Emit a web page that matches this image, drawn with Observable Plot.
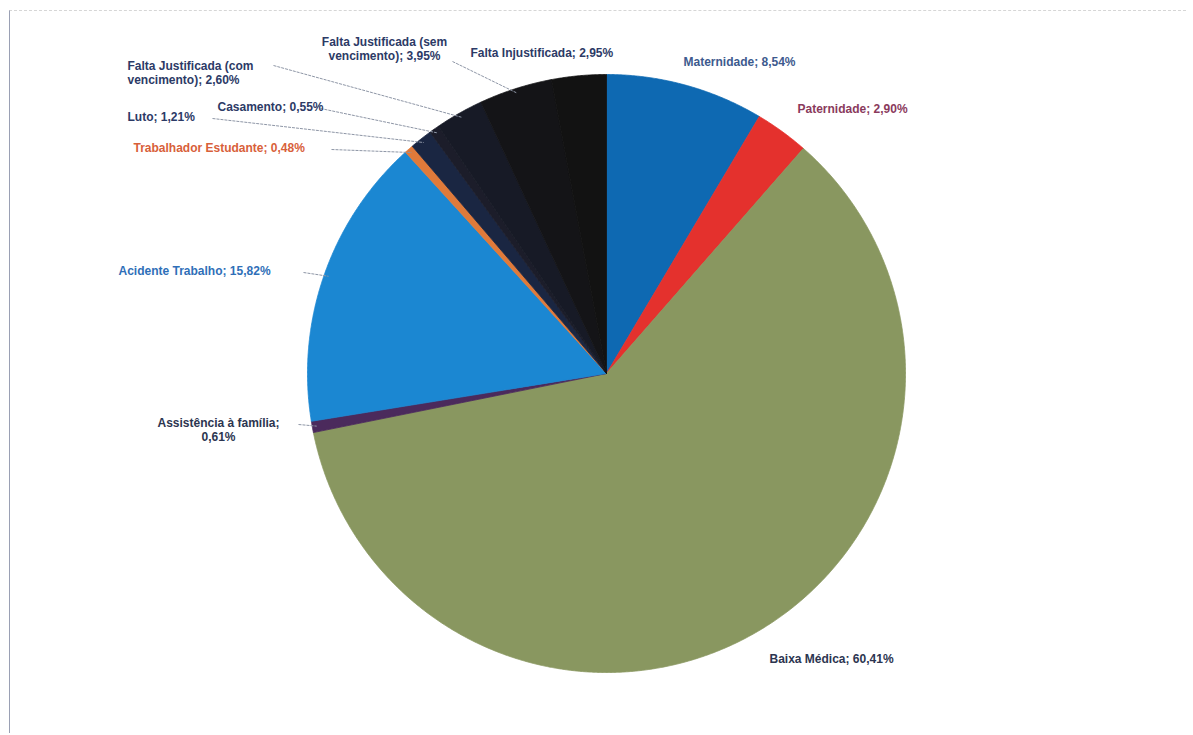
<!DOCTYPE html>
<html><head><meta charset="utf-8">
<script src="https://cdn.jsdelivr.net/npm/d3@7"></script>
<script src="https://cdn.jsdelivr.net/npm/@observablehq/plot@0.6"></script>
<style>
body{margin:0;background:#fff;overflow:hidden;}
#wrap{position:relative;width:1193px;height:735px;}
#frame{position:absolute;left:9px;top:10px;width:1176px;height:722px;border-left:1px solid #9aa0b4;border-top:1px dashed #d6d6d6;pointer-events:none;}
</style>
</head><body>
<div id="wrap"><div id="chart"></div><div id="frame"></div></div>
<script>
// ---- data ----
const categories = ["Maternidade","Paternidade","Baixa Médica","Assistência à família","Acidente Trabalho","Trabalhador Estudante","Luto","Casamento","Falta Justificada (com vencimento)","Falta Justificada (sem vencimento)","Falta Injustificada"];
const values = [8.54, 2.90, 60.41, 0.61, 15.82, 0.48, 1.21, 0.55, 2.60, 3.95, 2.95];
const sliceColors = ["#0e69b2","#e4312d","#899760","#4b2a5c","#1b87d2","#e07a3a","#1a2642","#1c1d2a","#171a26","#141417","#121212"];
const labelColors = ["#3d5a8e","#8a3a5c","#2c3550","#2c3550","#2f6fb8","#d8603a","#2c3a66","#2c3a66","#2c3a66","#2c3a66","#2c3a66"];

// ---- layout (pixels) ----
const W = 1193, H = 735, cx = 606, cy = 373, R = 299;
const labelLayout = [
  {px:683, py:61,  anchor:"start"},
  {px:797, py:108, anchor:"start"},
  {px:769, py:658, anchor:"start"},
  {px:218, py:429, anchor:"middle", wrap:"família;", lead:[298,424]},
  {px:118, py:270, anchor:"start", lead:[303,272]},
  {px:133, py:147, anchor:"start", lead:[331,149]},
  {px:127, py:116, anchor:"start", lead:[212,118]},
  {px:217, py:106, anchor:"start", lead:[320,108]},
  {px:127, py:72,  anchor:"start", wrap:"(com", lead:[273,65]},
  {px:384, py:48,  anchor:"middle", wrap:"(sem", lead:[452,61]},
  {px:470, py:52,  anchor:"start"}
];

const ux = px => (px - cx) / R;
const uy = py => (cy - py) / R;
const fmt = v => v.toFixed(2).replace(".", ",") + "%";

const total = d3.sum(values);
let acc = 0;
const slices = categories.map((name, i) => {
  const a0 = acc / total * 2 * Math.PI;
  acc += values[i];
  const a1 = acc / total * 2 * Math.PI;
  return {name, value: values[i], a0, a1, mid: (a0 + a1) / 2, color: sliceColors[i], i};
});

const pts = [];
for (const s of slices) {
  pts.push({name: s.name, x: 0, y: 0, color: s.color});
  const n = Math.max(2, Math.ceil((s.a1 - s.a0) / (Math.PI / 720)));
  for (let k = 0; k <= n; k++) {
    const a = s.a0 + (s.a1 - s.a0) * k / n;
    pts.push({name: s.name, x: Math.sin(a), y: Math.cos(a), color: s.color});
  }
  pts.push({name: s.name, x: 0, y: 0, color: s.color});
}

const labels = slices.map(s => {
  const L = labelLayout[s.i];
  let text = s.name + "; " + fmt(s.value);
  if (L.wrap) {
    const idx = text.indexOf(L.wrap) + L.wrap.length;
    text = text.slice(0, idx) + "\n" + text.slice(idx).trim();
  }
  return {text, x: ux(L.px), y: uy(L.py), anchor: L.anchor, color: labelColors[s.i],
          lead: L.lead, ex: Math.sin(s.mid) * 0.985, ey: Math.cos(s.mid) * 0.985};
});
const leaders = labels.filter(d => d.lead).map(d => ({x1: ux(d.lead[0]), y1: uy(d.lead[1]), x2: d.ex, y2: d.ey}));

const textStyle = {fontFamily: "Liberation Sans, Arial, sans-serif", fontWeight: "bold", fontSize: 12, lineHeight: 1.2};

const chart = Plot.plot({
  width: W, height: H, margin: 0,
  x: {domain: [-1, 1], range: [cx - R, cx + R], axis: null},
  y: {domain: [-1, 1], range: [cy + R, cy - R], axis: null},
  color: {type: "identity"},
  style: {background: "#fff"},
  marks: [
    Plot.line(pts, {x: "x", y: "y", z: "name", fill: "color", stroke: "color", strokeWidth: 0.8, curve: "linear"}),
    Plot.link(leaders, {x1: "x1", y1: "y1", x2: "x2", y2: "y2", stroke: "#8e96a6", strokeWidth: 1, strokeDasharray: "3,1"}),
    Plot.text(labels.filter(d => d.anchor === "start"), {x: "x", y: "y", text: "text", fill: "color", textAnchor: "start", ...textStyle}),
    Plot.text(labels.filter(d => d.anchor === "middle"), {x: "x", y: "y", text: "text", fill: "color", textAnchor: "middle", ...textStyle})
  ]
});
document.getElementById("chart").appendChild(chart);
</script>
</body></html>
